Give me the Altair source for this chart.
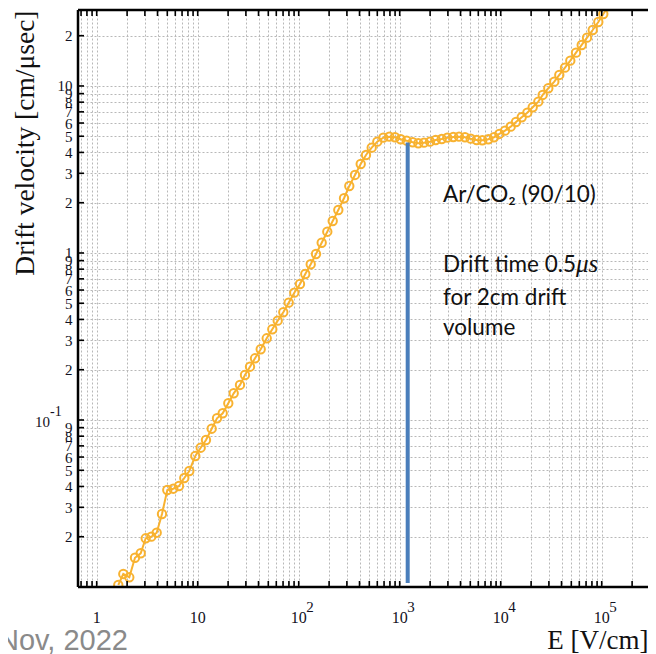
import json
import altair as alt
import pandas as pd

# ---- data ----
E_field = [1.636, 1.834, 2.103, 2.394, 2.727, 3.056, 3.472, 3.927, 4.431, 5.0,
           5.733, 6.528, 7.366, 8.257, 9.468, 10.71, 12.08, 13.76, 15.53, 17.68,
           20.09, 22.72, 26.23, 29.39, 32.95, 36.93, 42.05, 48.23, 54.78, 61.97,
           70.39, 79.62, 90.46, 103.0, 116.2, 131.5, 148.4, 168.9, 191.9, 217.1,
           246.7, 280.9, 316.9, 360.9, 411.1, 463.8, 528.2, 600.1, 688.1, 788.9,
           898.5, 1023, 1173, 1345, 1529, 1740, 1995, 2272, 2605, 2960,
           3394, 3865, 4431, 5047, 5785, 6574, 7537, 8585, 9685, 11030,
           12560, 14170, 16140, 18340, 20740, 23570, 26050, 29600, 33940, 38040,
           43310, 48880, 55660, 63390, 71540, 81460, 92540, 103700, 116800]
drift_velocity = [0.01028, 0.01197, 0.01143, 0.01497, 0.01592, 0.01957, 0.02001, 0.02114, 0.02736, 0.03808,
                  0.03878, 0.04025, 0.04495, 0.04950, 0.06087, 0.06825, 0.07593, 0.08868, 0.1024, 0.1097,
                  0.1259, 0.1445, 0.1621, 0.1860, 0.2085, 0.2341, 0.2651, 0.3084, 0.3492, 0.3933,
                  0.4415, 0.5039, 0.5785, 0.6523, 0.7487, 0.8556, 0.9863, 1.152, 1.341, 1.554,
                  1.809, 2.126, 2.519, 2.932, 3.411, 3.862, 4.271, 4.640, 4.902, 4.971,
                  4.930, 4.796, 4.705, 4.602, 4.539, 4.577, 4.640, 4.749, 4.815, 4.902,
                  4.950, 4.971, 4.930, 4.835, 4.749, 4.730, 4.796, 4.930, 5.160, 5.399,
                  5.706, 6.086, 6.495, 6.920, 7.456, 8.054, 8.834, 9.687, 10.61, 11.64,
                  12.87, 14.17, 15.83, 17.60, 19.46, 21.64, 24.16, 26.98, 30.13]

marker_E = [1200]
marker_v_top = [4.58]
marker_v_bottom = [0.01057]

x_domain = [0.653, 2.873e5]
y_domain = [0.01, 28.5]

x_tick_values = [0.7, 0.8, 0.9] + [k * 10 ** n for n in range(0, 5) for k in range(1, 10)] + [100000, 200000, 300000]
x_label_values = [1, 10, 100, 1000, 10000, 100000]
x_label_base = ["1", "10", "10", "10", "10", "10"]
x_label_exp = ["", "", "2", "3", "4", "5"]

y_tick_values = [k / 100 for k in range(2, 10)] + [k / 10 for k in range(1, 10)] + [k for k in range(1, 11)] + [20]
y_tick_labels = ([str(k) for k in range(2, 10)] + [""] + [str(k) for k in range(2, 10)]
                 + ["1"] + [str(k) for k in range(2, 10)] + ["10", "2"])
y_decade_value = [0.1]
y_decade_base = ["10"]
y_decade_exp = ["-1"]

annotation_lines = ["Ar/CO\u2082 (90/10)", "Drift time 0.5", "for 2cm drift", "volume"]
annotation_italic = "\u03bcs"
footer_text = "Nov, 2022"

# ---- layout ----
W, H = 570, 577
ORANGE = "#F8B230"
BLUE = "#4A7EBB"
SERIF = "Liberation Serif"
LABEL_COLOR = "#111122"

y_label_expr = f"{json.dumps(y_tick_labels)}[indexof({json.dumps(y_tick_values)}, datum.value)] || ''"

x_scale = alt.Scale(type="log", domain=x_domain, nice=False, zero=False)
y_scale = alt.Scale(type="log", domain=y_domain, nice=False, zero=False)

x_axis = alt.Axis(values=x_tick_values, labels=False, ticks=False, domain=False,
                  grid=True, gridDash=[2, 2], gridColor="#b8b8b8", gridWidth=1,
                  title="E [V/cm]", titleFont=SERIF, titleFontSize=27, titleFontWeight="normal",
                  titleAnchor="end", titleAlign="right", titleX=W, titleY=53,
                  titleBaseline="middle", titleColor="#111")
y_axis = alt.Axis(values=y_tick_values, labelExpr=y_label_expr, ticks=False, domain=False,
                  grid=True, gridDash=[2, 2], gridColor="#b8b8b8", gridWidth=1,
                  labelOverlap=False, labelBound=False, labelFont=SERIF, labelFontSize=15,
                  labelColor=LABEL_COLOR, labelPadding=6,
                  title="Drift velocity [cm/\u03bcsec]", titleFont=SERIF, titleFontSize=27.5,
                  titleFontWeight="normal", titleAnchor="end", titleAlign="right", titleAngle=-90,
                  titleX=-53, titleY=0, titleBaseline="middle", titleColor="#111")

curve_df = pd.DataFrame({"E": E_field, "v": drift_velocity})

base = alt.Chart(curve_df).encode(
    x=alt.X("E:Q", scale=x_scale, axis=x_axis),
    y=alt.Y("v:Q", scale=y_scale, axis=y_axis),
)
line = base.mark_line(color=ORANGE, strokeWidth=2, clip=True)
points = base.mark_point(shape="circle", size=70, filled=False, color=ORANGE, strokeWidth=2,
                         opacity=1, clip=True)

marker_df = pd.DataFrame({"E": marker_E, "top": marker_v_top, "bottom": marker_v_bottom})
blue_rule = alt.Chart(marker_df).mark_rule(color=BLUE, strokeWidth=4).encode(
    x=alt.X("E:Q", scale=x_scale), y=alt.Y("top:Q", scale=y_scale), y2="bottom:Q")

# frame (left, top, bottom) and inward ticks
one = pd.DataFrame({"k": [0]})
frame_left = alt.Chart(one).mark_rule(color="black", strokeWidth=2.5).encode(
    x=alt.value(0), y=alt.value(0), y2=alt.value(H))
frame_bottom = alt.Chart(one).mark_rule(color="black", strokeWidth=2.5).encode(
    x=alt.value(0), x2=alt.value(W), y=alt.value(H))
frame_top = alt.Chart(one).mark_rule(color="black", strokeWidth=2.5).encode(
    x=alt.value(0), x2=alt.value(W), y=alt.value(0))

xt = pd.DataFrame({"t": x_tick_values})
yt = pd.DataFrame({"t": y_tick_values})
x_ticks_bottom = alt.Chart(xt).mark_rule(color="black", strokeWidth=1.6).encode(
    x=alt.X("t:Q", scale=x_scale), y=alt.value(H), y2=alt.value(H - 6))
x_ticks_top = alt.Chart(xt).mark_rule(color="black", strokeWidth=1.6).encode(
    x=alt.X("t:Q", scale=x_scale), y=alt.value(0), y2=alt.value(6))
y_ticks_left = alt.Chart(yt).mark_rule(color="black", strokeWidth=1.6).encode(
    y=alt.Y("t:Q", scale=y_scale), x=alt.value(0), x2=alt.value(6))

# x tick labels with superscript exponents
xl = pd.DataFrame({"v": x_label_values, "b": x_label_base, "e": x_label_exp})
x_lab_base = alt.Chart(xl).mark_text(font=SERIF, fontSize=16, align="center", baseline="middle",
                                     color=LABEL_COLOR).encode(
    x=alt.X("v:Q", scale=x_scale), y=alt.value(H + 31), text="b:N")
x_lab_exp = alt.Chart(xl).mark_text(font=SERIF, fontSize=15, align="left", baseline="middle",
                                    color=LABEL_COLOR, dx=7.5).encode(
    x=alt.X("v:Q", scale=x_scale), y=alt.value(H + 20), text="e:N")

yl = pd.DataFrame({"v": y_decade_value, "b": y_decade_base, "e": y_decade_exp})
y_lab_base = alt.Chart(yl).mark_text(font=SERIF, fontSize=15, align="right", baseline="middle",
                                     color=LABEL_COLOR, dy=2).encode(
    y=alt.Y("v:Q", scale=y_scale), x=alt.value(-28), text="b:N")
y_lab_exp = alt.Chart(yl).mark_text(font=SERIF, fontSize=14, align="left", baseline="middle",
                                    color=LABEL_COLOR, dy=-8).encode(
    y=alt.Y("v:Q", scale=y_scale), x=alt.value(-28), text="e:N")

ann_font = "Lato"
ann_pos = [(365, 185), (365, 255), (365, 288), (365, 318)]
ann_layers = []
for txt, (px, py) in zip(annotation_lines, ann_pos):
    ann_layers.append(
        alt.Chart(pd.DataFrame({"label": [txt]})).mark_text(
            font=ann_font, fontSize=22.5, align="left", baseline="middle", color="#111"
        ).encode(text="label:N", x=alt.value(px), y=alt.value(py))
    )
ann_layers.append(
    alt.Chart(pd.DataFrame({"label": [annotation_italic]})).mark_text(
        font=SERIF, fontSize=25, fontStyle="italic", align="left", baseline="middle", color="#111"
    ).encode(text="label:N", x=alt.value(498), y=alt.value(254))
)
footer = alt.Chart(pd.DataFrame({"label": [footer_text]})).mark_text(
    font="Liberation Sans", fontSize=29, align="right", baseline="alphabetic", color="#8a8a8a"
).encode(text="label:N", x=alt.value(50), y=alt.value(640))

chart = alt.layer(
    line, points, blue_rule, x_ticks_bottom, x_ticks_top, y_ticks_left,
    frame_left, frame_bottom, frame_top,
    x_lab_base, x_lab_exp, y_lab_base, y_lab_exp,
    *ann_layers, footer
).properties(
    width=W, height=H,
    autosize=alt.AutoSizeParams(type="none"),
    padding={"left": 70, "top": 2, "right": 0, "bottom": 67},
).configure_view(strokeWidth=0).configure(background="white")

chart.save("out.html", embed_options={"renderer": "svg", "actions": False})
